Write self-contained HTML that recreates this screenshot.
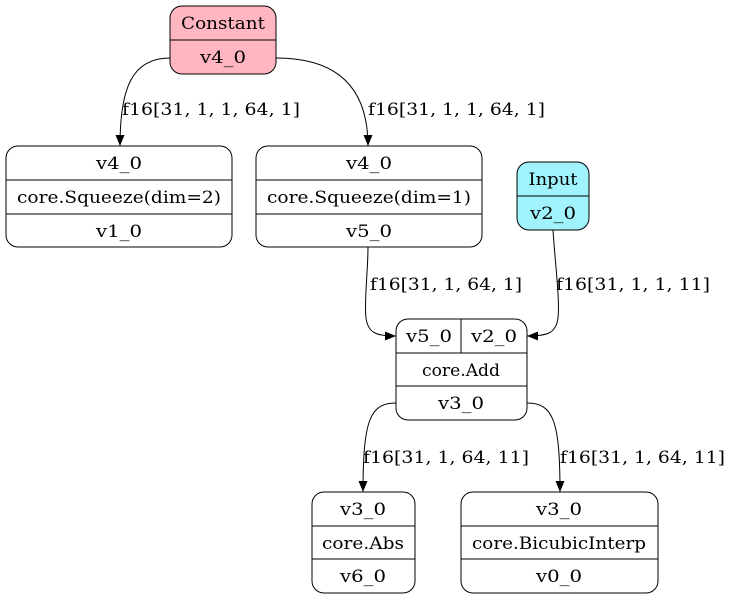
<!DOCTYPE html>
<html><head><meta charset="utf-8"><style>
html,body{margin:0;padding:0;background:#fff;}
svg text{font-family:"DejaVu Serif",serif;font-size:17px;fill:#000;}
</style></head><body>
<svg width="730" height="601" viewBox="0 0 730 601" xmlns="http://www.w3.org/2000/svg">
<defs><marker id="a" markerWidth="12" markerHeight="12" refX="11" refY="6" orient="auto" markerUnits="userSpaceOnUse"><path d="M0,1.5 L11,6 L0,10.5 Z" fill="#000"/></marker></defs>
<g fill="none" stroke="#000" stroke-width="1">
<rect x="170" y="6" width="106" height="68" rx="12" fill="#ffb6c1"/>
<line x1="170" y1="40" x2="276" y2="40"/>
<rect x="6" y="146" width="226" height="101" rx="12" fill="#fff"/>
<line x1="6" y1="180" x2="232" y2="180"/><line x1="6" y1="214" x2="232" y2="214"/>
<rect x="256" y="146" width="226" height="101" rx="12" fill="#fff"/>
<line x1="256" y1="180" x2="482" y2="180"/><line x1="256" y1="214" x2="482" y2="214"/>
<rect x="517" y="162" width="72" height="68" rx="12" fill="#a0f2fc"/>
<line x1="517" y1="196" x2="589" y2="196"/>
<rect x="396" y="319" width="131" height="101" rx="12" fill="#fff"/>
<line x1="396" y1="353" x2="527" y2="353"/><line x1="396" y1="386" x2="527" y2="386"/>
<line x1="461" y1="319" x2="461" y2="353"/>
<rect x="312" y="492" width="103" height="101" rx="12" fill="#fff"/>
<line x1="312" y1="526" x2="415" y2="526"/><line x1="312" y1="559" x2="415" y2="559"/>
<rect x="461" y="492" width="197" height="101" rx="12" fill="#fff"/>
<line x1="461" y1="526" x2="658" y2="526"/><line x1="461" y1="559" x2="658" y2="559"/>
<path d="M170,58 C132,58 120,88 120,146" marker-end="url(#a)"/>
<path d="M276,58 C338,58 368,88 368,146" marker-end="url(#a)"/>
<path d="M368,247 C368,272 364,300 366,318 C368,334 378,336 396,336" marker-end="url(#a)"/>
<path d="M553,230 C555,262 560,300 558,318 C556,334 546,336 527,336" marker-end="url(#a)"/>
<path d="M396,403 C370,403 363,420 363,492" marker-end="url(#a)"/>
<path d="M527,403 C553,403 560,420 560,492" marker-end="url(#a)"/>
</g>
<g text-anchor="middle">
<text x="223" y="29" textLength="84" lengthAdjust="spacingAndGlyphs">Constant</text><text x="223" y="63" textLength="46" lengthAdjust="spacingAndGlyphs">v4_0</text>
<text x="119" y="169" textLength="46" lengthAdjust="spacingAndGlyphs">v4_0</text><text x="119" y="203" textLength="204" lengthAdjust="spacingAndGlyphs">core.Squeeze(dim=2)</text><text x="119" y="237" textLength="46" lengthAdjust="spacingAndGlyphs">v1_0</text>
<text x="369" y="169" textLength="46" lengthAdjust="spacingAndGlyphs">v4_0</text><text x="369" y="203" textLength="204" lengthAdjust="spacingAndGlyphs">core.Squeeze(dim=1)</text><text x="369" y="237" textLength="46" lengthAdjust="spacingAndGlyphs">v5_0</text>
<text x="553" y="185" textLength="49" lengthAdjust="spacingAndGlyphs">Input</text><text x="553" y="219" textLength="46" lengthAdjust="spacingAndGlyphs">v2_0</text>
<text x="429" y="342" textLength="46" lengthAdjust="spacingAndGlyphs">v5_0</text><text x="494" y="342" textLength="46" lengthAdjust="spacingAndGlyphs">v2_0</text><text x="461" y="376" textLength="78" lengthAdjust="spacingAndGlyphs">core.Add</text><text x="461" y="409" textLength="46" lengthAdjust="spacingAndGlyphs">v3_0</text>
<text x="363" y="515" textLength="46" lengthAdjust="spacingAndGlyphs">v3_0</text><text x="363" y="549" textLength="82" lengthAdjust="spacingAndGlyphs">core.Abs</text><text x="363" y="582" textLength="46" lengthAdjust="spacingAndGlyphs">v6_0</text>
<text x="559" y="515" textLength="46" lengthAdjust="spacingAndGlyphs">v3_0</text><text x="559" y="549" textLength="174" lengthAdjust="spacingAndGlyphs">core.BicubicInterp</text><text x="559" y="582" textLength="46" lengthAdjust="spacingAndGlyphs">v0_0</text>
</g>
<g>
<text x="122" y="115" textLength="178" lengthAdjust="spacingAndGlyphs">f16[31, 1, 1, 64, 1]</text>
<text x="368" y="115" textLength="177" lengthAdjust="spacingAndGlyphs">f16[31, 1, 1, 64, 1]</text>
<text x="370" y="290" textLength="152" lengthAdjust="spacingAndGlyphs">f16[31, 1, 64, 1]</text>
<text x="556" y="290" textLength="154" lengthAdjust="spacingAndGlyphs">f16[31, 1, 1, 11]</text>
<text x="363" y="463" textLength="166" lengthAdjust="spacingAndGlyphs">f16[31, 1, 64, 11]</text>
<text x="560" y="463" textLength="165" lengthAdjust="spacingAndGlyphs">f16[31, 1, 64, 11]</text>
</g>
</svg>
</body></html>
